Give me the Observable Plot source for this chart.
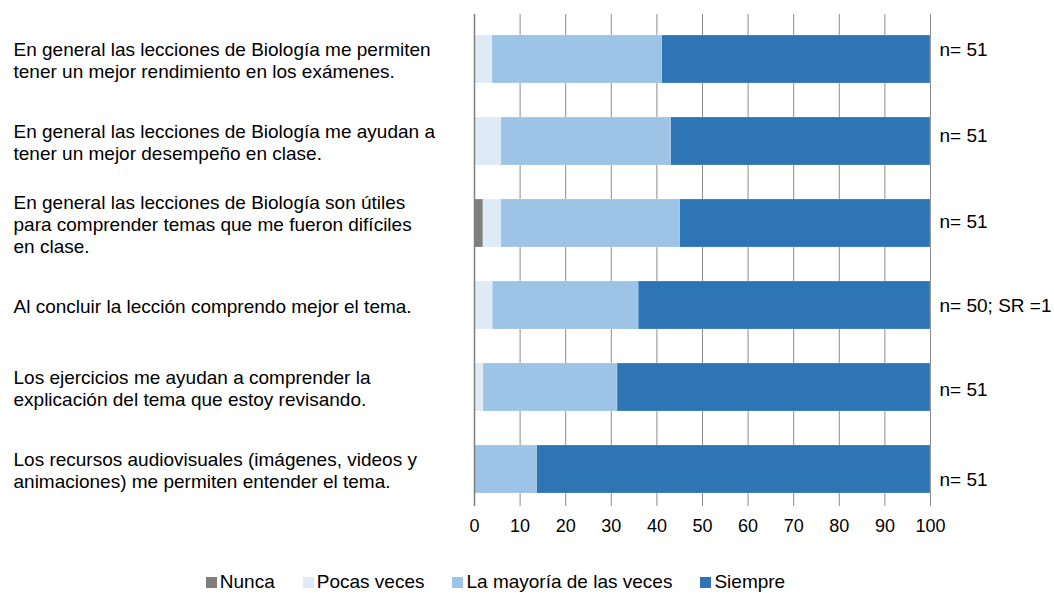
<!DOCTYPE html>
<html>
<head>
<meta charset="utf-8">
<script src="https://cdn.jsdelivr.net/npm/d3@7"></script>
<script src="https://cdn.jsdelivr.net/npm/@observablehq/plot@0.6"></script>
<style>
  body { margin: 0; background: #fff; font-family: "Liberation Sans", Arial, sans-serif; }
  #chart svg { display: block; }
  .legend { display: flex; justify-content: center; width: 991px; margin-top: 21px; font-size: 19px; color: #000; line-height: 22px; }
  .legend .item { display: flex; align-items: center; margin: 0 14px; }
  .legend .sw { width: 11px; height: 11px; margin-right: 3px; }
</style>
</head>
<body>
<div id="chart"></div>
<div class="legend" id="legend"></div>
<script>
const categories = [
  "En general las lecciones de Biología me permiten\ntener un mejor rendimiento en los exámenes.",
  "En general las lecciones de Biología me ayudan a\ntener un mejor desempeño en clase.",
  "En general las lecciones de Biología son útiles\npara comprender temas que me fueron difíciles\nen clase.",
  "Al concluir la lección comprendo mejor el tema.",
  "Los ejercicios me ayudan a comprender la\nexplicación del tema que estoy revisando.",
  "Los recursos audiovisuales (imágenes, videos y\nanimaciones) me permiten entender el tema."
];
const seriesNames = ["Nunca", "Pocas veces", "La mayoría de las veces", "Siempre"];
const nunca   = [0, 0, 1.96, 0, 0, 0];
const pocas   = [3.92, 5.88, 3.92, 4, 1.96, 0];
const mayoria = [37.25, 37.25, 39.22, 32, 29.41, 13.73];
const siempre = [58.82, 56.86, 54.90, 64, 68.63, 86.27];
const nLabels = ["n= 51", "n= 51", "n= 51", "n= 50; SR =1", "n= 51", "n= 51"];
const xTicks = [0, 10, 20, 30, 40, 50, 60, 70, 80, 90, 100];
const colors = ["#7f7f7f", "#deebf7", "#9dc3e6", "#2e75b6"];

const seriesValues = [nunca, pocas, mayoria, siempre];
const rows = [];
categories.forEach((c, i) => {
  seriesNames.forEach((s, j) => rows.push({category: c, series: s, value: seriesValues[j][i]}));
});
const nRows = categories.map((c, i) => ({category: c, label: nLabels[i]}));
const nNudge = [-10, -6, -2, 0, 2, 10];

const chart = Plot.plot({
  width: 1054,
  height: 550,
  marginLeft: 474,
  marginRight: 124,
  marginTop: 14,
  marginBottom: 44,
  style: {fontFamily: "Liberation Sans, Arial, sans-serif", fontSize: "18px", color: "#000", background: "#fff"},
  x: {domain: [0, 100], axis: null},
  y: {domain: categories, axis: null, paddingInner: 0.42, paddingOuter: 0.174, align: 0.62},
  color: {domain: seriesNames, range: colors},
  marks: [
    Plot.gridX(xTicks, {stroke: "#8c8c8c", strokeOpacity: 1, strokeWidth: 1}),
    Plot.barX(rows, Plot.stackX({x: "value", y: "category", fill: "series", order: seriesNames, stroke: "#ffffff", strokeOpacity: 0.35, strokeWidth: 0.6})),
    Plot.ruleX([0], {stroke: "#7f7f7f", strokeWidth: 1.5}),
    Plot.axisX({ticks: xTicks, tickSize: 0, tickPadding: 13, fontSize: 18, label: null, tickFormat: d => String(d)}),
    Plot.text(categories, {y: d => d, text: d => d, frameAnchor: "left", textAnchor: "start", dx: -461, lineHeight: 1.16, fontSize: 19, fill: "#000"}),
    ...nRows.map((r, i) => Plot.text([r], {y: "category", text: "label", frameAnchor: "right", textAnchor: "start", dx: 9, dy: nNudge[i], fontSize: 19, fill: "#000"}))
  ]
});
document.getElementById("chart").appendChild(chart);

const legend = document.getElementById("legend");
seriesNames.forEach((s, i) => {
  const item = document.createElement("div");
  item.className = "item";
  const sw = document.createElement("span");
  sw.className = "sw";
  sw.style.background = colors[i];
  const t = document.createElement("span");
  t.textContent = s;
  item.appendChild(sw);
  item.appendChild(t);
  legend.appendChild(item);
});
</script>
</body>
</html>
